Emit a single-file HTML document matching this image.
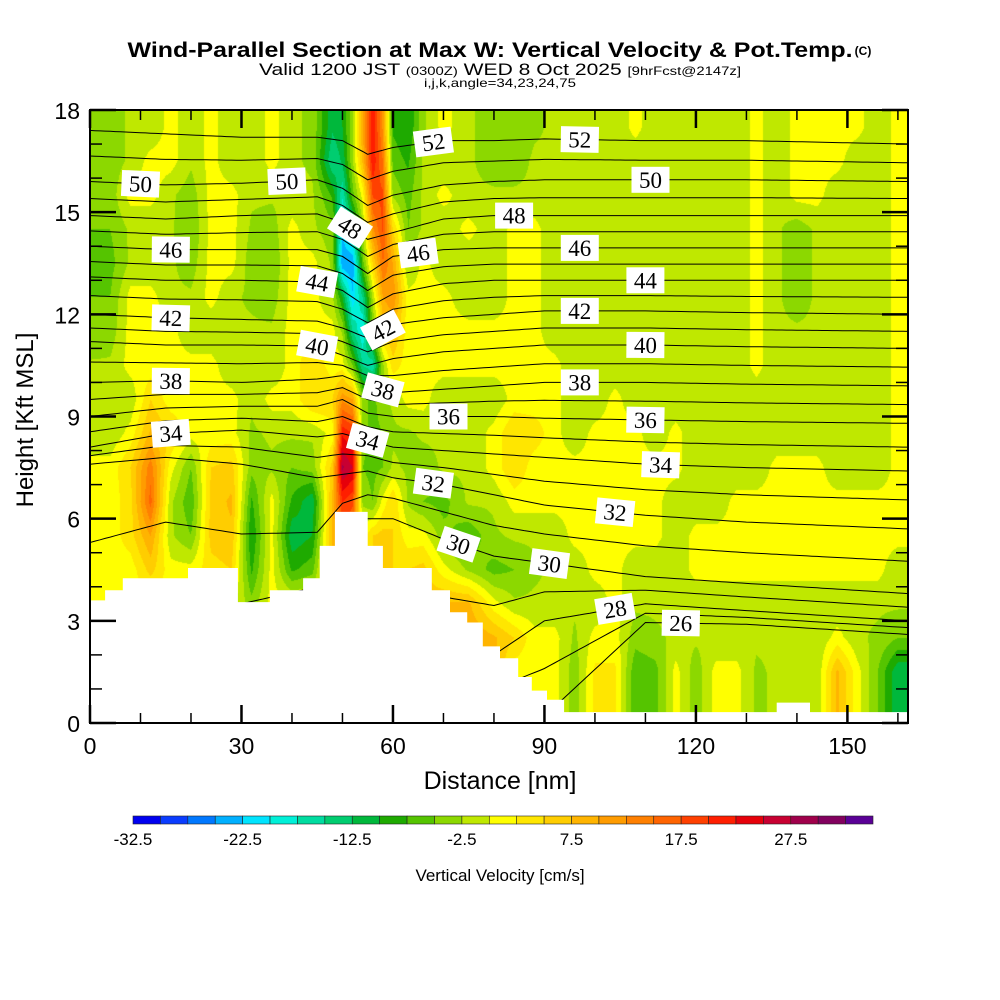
<!DOCTYPE html>
<html><head><meta charset="utf-8"><style>
html,body{margin:0;padding:0;background:#fff;width:1000px;height:1000px;overflow:hidden}
#heat{position:absolute;left:90px;top:110px}
#ov{position:absolute;left:0;top:0}
text{font-family:"Liberation Sans",sans-serif}
</style></head><body>
<canvas id="heat" width="818" height="613"></canvas>
<svg id="ov" width="1000" height="1000">
<defs><clipPath id="pc"><rect x="90" y="110" width="818" height="613"/></clipPath></defs>
<g>
<text x="490" y="57" text-anchor="middle" font-weight="bold" font-size="21" textLength="725" lengthAdjust="spacingAndGlyphs">Wind-Parallel Section at Max W: Vertical Velocity &amp; Pot.Temp.</text>
<text x="863" y="55" text-anchor="middle" font-weight="bold" font-size="12">(C)</text>
<text x="500" y="75" text-anchor="middle" font-size="17" textLength="482" lengthAdjust="spacingAndGlyphs">Valid 1200 JST <tspan font-size="12">(0300Z)</tspan> WED 8 Oct 2025 <tspan font-size="12">[9hrFcst@2147z]</tspan></text>
<text x="500" y="87" text-anchor="middle" font-size="12" textLength="152" lengthAdjust="spacingAndGlyphs">i,j,k,angle=34,23,24,75</text>
</g>
<g id="lines" clip-path="url(#pc)"></g>
<path id="terrain" fill="#fff"/>
<g id="labs"></g>
<g id="axes"></g>
<text x="500" y="789" text-anchor="middle" font-size="25">Distance [nm]</text>
<text transform="translate(33,420) rotate(-90)" text-anchor="middle" font-size="24">Height [Kft MSL]</text>
<g id="cbar"></g>
<text x="500" y="881" text-anchor="middle" font-size="17">Vertical Velocity [cm/s]</text>
</svg>
<script>
// ---- data ----
const colsNm=[0,4,8,12,16,20,24,28,32,36,40,44,48,50,52,54,56,58,60,63,66,70,75,80,84,88,92,96,100,104,108,112,116,120,124,128,132,136,140,144,148,152,156,160];
// each column: w (cm/s) for rows 0-1 ... 17-18 kft
const wCols=[
[1,1,1,1,1,1,1,1,-2,-2,-2,-5,-5,-5,-5,-5,-5,-5],
[1,1,1,1,1,1,1,1,-2,-2,-2,-4,-5,-6,-5,-4,-4,-4],
[1,1,1,1,1,4,4,5,1,-2,1,1,1,-2,-2,1,-2,-2],
[1,1,1,1,6,10,16,14,8,5,1,1,1,-2,-2,1,1,-2],
[1,1,1,1,1,-2,-2,1,5,1,1,1,-2,-2,-2,-2,1,1],
[1,1,1,1,1,-5,-7,-5,1,1,1,-2,-2,-4,-5,-4,-2,-2],
[1,1,1,1,4,6,6,5,1,1,1,-2,1,1,1,1,1,1],
[1,1,1,1,5,7,8,6,1,1,-2,-2,-2,1,1,1,-2,-2],
[1,1,1,-4,-8,-10,-8,-4,-3,-2,-2,-2,-3,-4,-3,-2,-2,-2],
[1,1,1,1,1,1,1,-3,-2,1,-2,-2,-4,-5,-4,-2,1,1],
[1,1,1,1,-8,-12,-8,-5,-2,1,1,1,1,1,1,-2,-2,-2],
[1,1,1,1,-6,-10,-12,-4,-2,5,5,1,1,1,-2,-2,-3,-3],
[1,1,1,1,8,8,8,6,1,5,1,1,-2,-3,-4,-8,-15,-12],
[1,1,1,1,10,15,20,28,22,12,1,-3,-10,-25,-22,-17,-12,-10],
[1,1,1,1,10,15,18,25,20,10,-5,-15,-22,-25,-15,-6,-3,-3],
[1,1,1,1,1,1,-3,-5,-4,-4,-15,-20,-15,-6,-3,1,8,10],
[1,1,1,1,5,5,-5,-6,-6,-6,-17,-5,-2,5,12,18,22,22],
[1,1,1,1,6,6,1,-5,-5,-3,-3,6,10,15,18,18,15,12],
[1,1,1,1,5,5,5,-2,-3,-2,4,8,12,10,5,-3,-6,-8],
[1,1,1,1,5,1,-3,-3,-3,1,1,1,1,-3,-5,-6,-8,-10],
[1,1,1,6,6,1,-5,-4,-2,1,1,1,1,1,-2,-2,-2,-3],
[1,1,8,8,1,-4,-6,-2,-2,-2,1,1,1,-2,-2,1,-2,1],
[1,8,10,8,-3,-7,-2,-2,-2,-2,1,1,-2,-2,1,-2,-2,-2],
[5,8,8,1,-6,-3,-2,1,1,-2,1,1,-2,-2,-2,-2,-4,-4],
[1,1,5,-2,-5,-2,1,5,5,1,1,1,1,1,1,-2,-4,-5],
[1,1,1,-2,-3,-2,1,1,4,1,1,1,1,1,1,-2,-2,-3],
[1,1,1,-2,-2,-2,1,1,1,1,1,-2,-2,-2,-2,-2,-2,-2],
[-4,-4,-3,-2,-2,1,1,1,-2,-2,-2,-2,-2,-2,-2,-2,-2,-2],
[3,3,1,-2,1,1,1,1,1,-2,-2,-2,-2,-2,-2,-2,-2,-2],
[3,3,1,1,1,1,1,1,1,1,-2,-2,-2,-2,-2,-2,-2,-2],
[-7,-7,-4,-2,-2,1,1,1,1,-2,-2,-2,-2,-2,-2,-2,-2,1],
[-6,-6,-3,-2,-2,1,1,1,-2,-2,-2,-2,-2,-2,-2,-2,-2,-2],
[1,1,-2,-2,-2,-2,-2,1,1,-2,-2,-2,-2,-2,-2,-2,-2,-2],
[-4,-4,-2,-2,1,1,-2,-2,-2,-2,-2,-2,-2,-2,-2,-2,-2,-2],
[1,1,-2,-2,1,1,-2,-2,-2,-2,-2,-2,-2,-2,-2,-2,-2,-2],
[1,1,-2,-2,1,1,1,-2,-2,-2,-2,-2,-2,-2,-2,-2,-2,-2],
[-3,-3,-2,-2,1,1,1,-2,-2,-2,1,1,1,1,1,1,1,1],
[-2,-2,-2,-2,1,1,1,1,-2,-2,-2,-2,-2,-2,-2,-2,-2,-2],
[-2,-2,-2,-2,1,1,1,1,-2,-2,-2,-2,-4,-4,-4,1,1,1],
[-2,-2,-2,-2,1,1,1,1,-2,-2,-2,-2,-2,-2,-2,1,1,1],
[8,8,1,-2,1,1,1,-2,-2,-2,-2,-2,-2,-2,-2,-2,1,1],
[1,1,-2,-2,1,1,1,-2,-2,-2,-2,-2,-2,-2,-2,-2,-2,1],
[-5,-5,-3,-2,1,1,1,-2,-2,-2,-2,-2,-2,-2,-2,-2,-2,-2],
[-12,-12,-5,-2,-2,1,1,1,1,1,1,1,1,1,1,1,1,1]
];
const cbarLevels=[-32.5,-30,-27.5,-25,-22.5,-20,-17.5,-15,-12.5,-10,-7.5,-5,-2.5,0,2.5,5,7.5,10,12.5,15,17.5,20,22.5,25,27.5,30,32.5,35];
const cbarColors=["#0000f0","#0a3cff","#0078ff","#00b0ff","#00e4ff","#00f0d8","#00dca0","#00cd70","#00b83c","#1eaa00","#55c400","#8cd800","#bfe800","#ffff00","#ffe600","#ffcd00","#ffb400","#ff9c00","#ff8000","#ff6400","#ff4000","#ff1e00","#e6000a","#c80032","#a0004b","#82005f","#5a0096"];
const cbarTicks=[-32.5,-22.5,-12.5,-2.5,7.5,17.5,27.5];
// isentropes (K), heights in kft at knot distances
const thKnots=[0,15,30,45,50,55,60,70,80,90,110,130,162];
const thLevels=[26,28,30,32,34,36,38,40,42,44,46,48,50,52];
const thHeights=[
[0,0,0,0,0,0,0,0,0,0.2,2.95,2.9,2.6],
[2,2,2,2,2,2,2,2,2,3.0,3.5,3.3,3.0],
[3,4,3.5,4,5.6,6.0,6.0,5.4,4.9,4.7,4.3,4.1,3.8],
[7.6,7.8,7.6,7.2,7.3,7.4,7.2,7.0,6.7,6.4,6.1,5.9,5.7],
[8.1,8.5,8.6,8.4,8.5,8.3,8.1,8.0,7.9,7.8,7.6,7.5,7.4],
[9.0,9.25,9.3,9.3,9.5,9.1,9.0,9.0,9.0,8.95,8.9,8.85,8.8],
[10.0,10.05,10.0,10.1,10.2,9.9,9.7,9.8,9.9,10.0,10.0,9.95,9.9],
[11.2,11.1,11.1,11.07,10.8,10.5,10.7,10.9,11.0,11.1,11.1,11.05,11.0],
[12.0,11.9,11.85,11.8,11.6,11.3,11.7,11.9,12.0,12.1,12.1,12.05,12.0],
[13.1,13.0,13.0,12.95,12.7,12.2,12.6,12.9,13.0,13.0,13.0,13.0,13.0],
[14.0,13.9,13.9,13.9,13.7,13.2,13.7,13.9,13.95,13.95,13.95,13.95,13.95],
[14.9,14.8,14.9,14.95,14.7,14.2,14.4,14.8,14.9,14.9,14.9,14.9,14.9],
[15.9,15.8,15.85,15.95,15.7,15.2,15.5,15.8,15.9,15.95,15.95,15.95,15.9],
[17.4,17.3,17.2,17.2,17.1,16.7,16.9,17.1,17.1,17.15,17.1,17.1,17.0]
];
const labelLevels=[52,52,50,50,50,48,48,46,46,46,44,44,42,42,42,40,40,38,38,38,36,36,34,34,34,32,32,30,30,28,26];
const labelNm=[68,97,10,39,111,51.5,84,16,65,97,45,110,16,58,97,45,110,16,58,97,71,110,16,55,113,68,104,73,91,104,117];
// terrain steps: [start nm, height kft]
const terrainNm=[0,3,6.5,19.4,29.3,35.6,42.2,45.5,48.5,55,58,67.7,71.3,74.7,77.8,81.2,84.8,87.5,90.5,93.9,136,142.6];
const terrainKft=[3.6,3.9,4.25,4.55,3.55,3.9,4.25,5.2,6.2,5.2,4.55,3.9,3.25,2.95,2.25,1.9,1.35,0.95,0.68,0.32,0.6,0.32];
const xTicks=[0,30,60,90,120,150];
const yTicks=[0,3,6,9,12,15,18];
// ---- scales ----
const X0=90,X1=908,Y0=723,Y1=110,NMMAX=162,KMAX=18;
const xs=n=>X0+n*(X1-X0)/NMMAX;
const ys=k=>Y0-k*(Y0-Y1)/KMAX;
const NS="http://www.w3.org/2000/svg";
function mk(tag,attrs,parent){const e=document.createElementNS(NS,tag);for(const k in attrs)e.setAttribute(k,attrs[k]);parent.appendChild(e);return e;}
function hex(c){return [parseInt(c.slice(1,3),16),parseInt(c.slice(3,5),16),parseInt(c.slice(5,7),16)];}
const rgb=cbarColors.map(hex);
// ---- heatmap ----
const cv=document.getElementById('heat'),ctx=cv.getContext('2d');
const img=ctx.createImageData(818,613);
for(let py=0;py<613;py++){
  const k=(Y0-(py+110.5))*KMAX/(Y0-Y1);
  let r=k-0.5; if(r<0)r=0; if(r>16.999)r=16.999; const r0=Math.floor(r),tr=r-r0;
  for(let px=0;px<818;px++){
    const n=(px+0.5)*NMMAX/(X1-X0);
    let c=0; while(c<colsNm.length-2&&n>colsNm[c+1])c++;
    let tc=(n-colsNm[c])/(colsNm[c+1]-colsNm[c]); tc=Math.max(0,Math.min(1,tc));
    const a=wCols[c],b=wCols[c+1];
    const v=(a[r0]*(1-tc)+b[r0]*tc)*(1-tr)+(a[r0+1]*(1-tc)+b[r0+1]*tc)*tr;
    let idx=Math.floor((v+32.5)/2.5); idx=Math.max(0,Math.min(26,idx));
    const o=(py*818+px)*4,col=rgb[idx];
    img.data[o]=col[0];img.data[o+1]=col[1];img.data[o+2]=col[2];img.data[o+3]=255;
  }
}
ctx.putImageData(img,0,0);
// ---- isentropes ----
function prof(h,n){let i=0;while(i<thKnots.length-2&&n>thKnots[i+1])i++;const t=(n-thKnots[i])/(thKnots[i+1]-thKnots[i]);return h[i]*(1-t)+h[i+1]*t;}
const lg=document.getElementById('lines');
function drawLine(h,name){
  let d='';for(let n=0;n<=NMMAX;n+=1){d+=(n?'L':'M')+xs(n).toFixed(1)+','+ys(prof(h,n)).toFixed(1);}
  const p=mk('path',{d:d,fill:'none',stroke:'#000','stroke-width':1},lg);
  
  
}
for(let i=0;i<thLevels.length;i++){
  drawLine(thHeights[i],'isentrope-'+thLevels[i]);
  if(i<thLevels.length-1){const mid=thHeights[i].map((v,j)=>(v+thHeights[i+1][j])/2);drawLine(mid,'isentrope-'+(thLevels[i]+1));}
}
// ---- terrain ----
let td='M'+xs(0)+','+ys(0);
for(let i=0;i<terrainNm.length;i++){const xe=i<terrainNm.length-1?terrainNm[i+1]:NMMAX;td+='L'+xs(terrainNm[i]).toFixed(1)+','+ys(terrainKft[i]).toFixed(1)+'L'+xs(xe).toFixed(1)+','+ys(terrainKft[i]).toFixed(1);}
td+='L'+xs(NMMAX)+','+ys(0)+'Z';
document.getElementById('terrain').setAttribute('d',td);
// ---- labels ----
const lb=document.getElementById('labs');
for(let i=0;i<labelLevels.length;i++){
  const h=thHeights[thLevels.indexOf(labelLevels[i])],n=labelNm[i];
  const x=xs(n),y=ys(prof(h,n));
  const dy=ys(prof(h,n+2))-ys(prof(h,n-2)),dx=xs(n+2)-xs(n-2);
  let ang=Math.atan2(dy,dx)*180/Math.PI; ang=Math.max(-60,Math.min(60,ang));
  const g=mk('g',{transform:`translate(${x.toFixed(1)},${y.toFixed(1)}) rotate(${ang.toFixed(1)})`},lb);
  
  
  mk('rect',{x:-19,y:-13,width:38,height:26,fill:'#fff'},g);
  const t=mk('text',{x:0,y:8,'text-anchor':'middle','font-size':23,style:'font-family:"Liberation Serif",serif'},g);
  t.textContent=labelLevels[i];
}
// ---- axes ----
const ax=document.getElementById('axes');
const fr=mk('rect',{x:X0,y:Y1,width:X1-X0,height:Y0-Y1,fill:'none',stroke:'#000','stroke-width':2},ax);


for(let n=0;n<=160;n+=10){
  const L=n%30===0?18:10;
  mk('line',{x1:xs(n),x2:xs(n),y1:Y0,y2:Y0-L,stroke:'#000','stroke-width':n%30===0?2.5:1.5},ax);
  mk('line',{x1:xs(n),x2:xs(n),y1:Y1,y2:Y1+L,stroke:'#000','stroke-width':n%30===0?2.5:1.5},ax);
}
for(let k=0;k<=18;k++){
  const L=k%3===0?26:12;
  mk('line',{x1:X0,x2:X0+L,y1:ys(k),y2:ys(k),stroke:'#000','stroke-width':k%3===0?2.5:1.5},ax);
  mk('line',{x1:X1,x2:X1-L,y1:ys(k),y2:ys(k),stroke:'#000','stroke-width':k%3===0?2.5:1.5},ax);
}
xTicks.forEach(v=>{const t=mk('text',{x:xs(v),y:Y0+31,'text-anchor':'middle','font-size':23},ax);t.textContent=v;
  });
yTicks.forEach(v=>{const t=mk('text',{x:80,y:ys(v)+9,'text-anchor':'end','font-size':23},ax);t.textContent=v;
  });
// ---- colorbar ----
const cb=document.getElementById('cbar');
const CB0=133,CB1=873,cbx=v=>CB0+(v-cbarLevels[0])*(CB1-CB0)/(cbarLevels[cbarLevels.length-1]-cbarLevels[0]);
for(let i=0;i<cbarColors.length;i++){
  const r=mk('rect',{x:cbx(cbarLevels[i]),y:816,width:cbx(cbarLevels[i+1])-cbx(cbarLevels[i]),height:8,fill:cbarColors[i],stroke:'#222','stroke-width':0.6},cb);
  
  
}
cbarTicks.forEach(v=>{const t=mk('text',{x:cbx(v),y:845,'text-anchor':'middle','font-size':17},cb);t.textContent=v;
  });
</script>
</body></html>
